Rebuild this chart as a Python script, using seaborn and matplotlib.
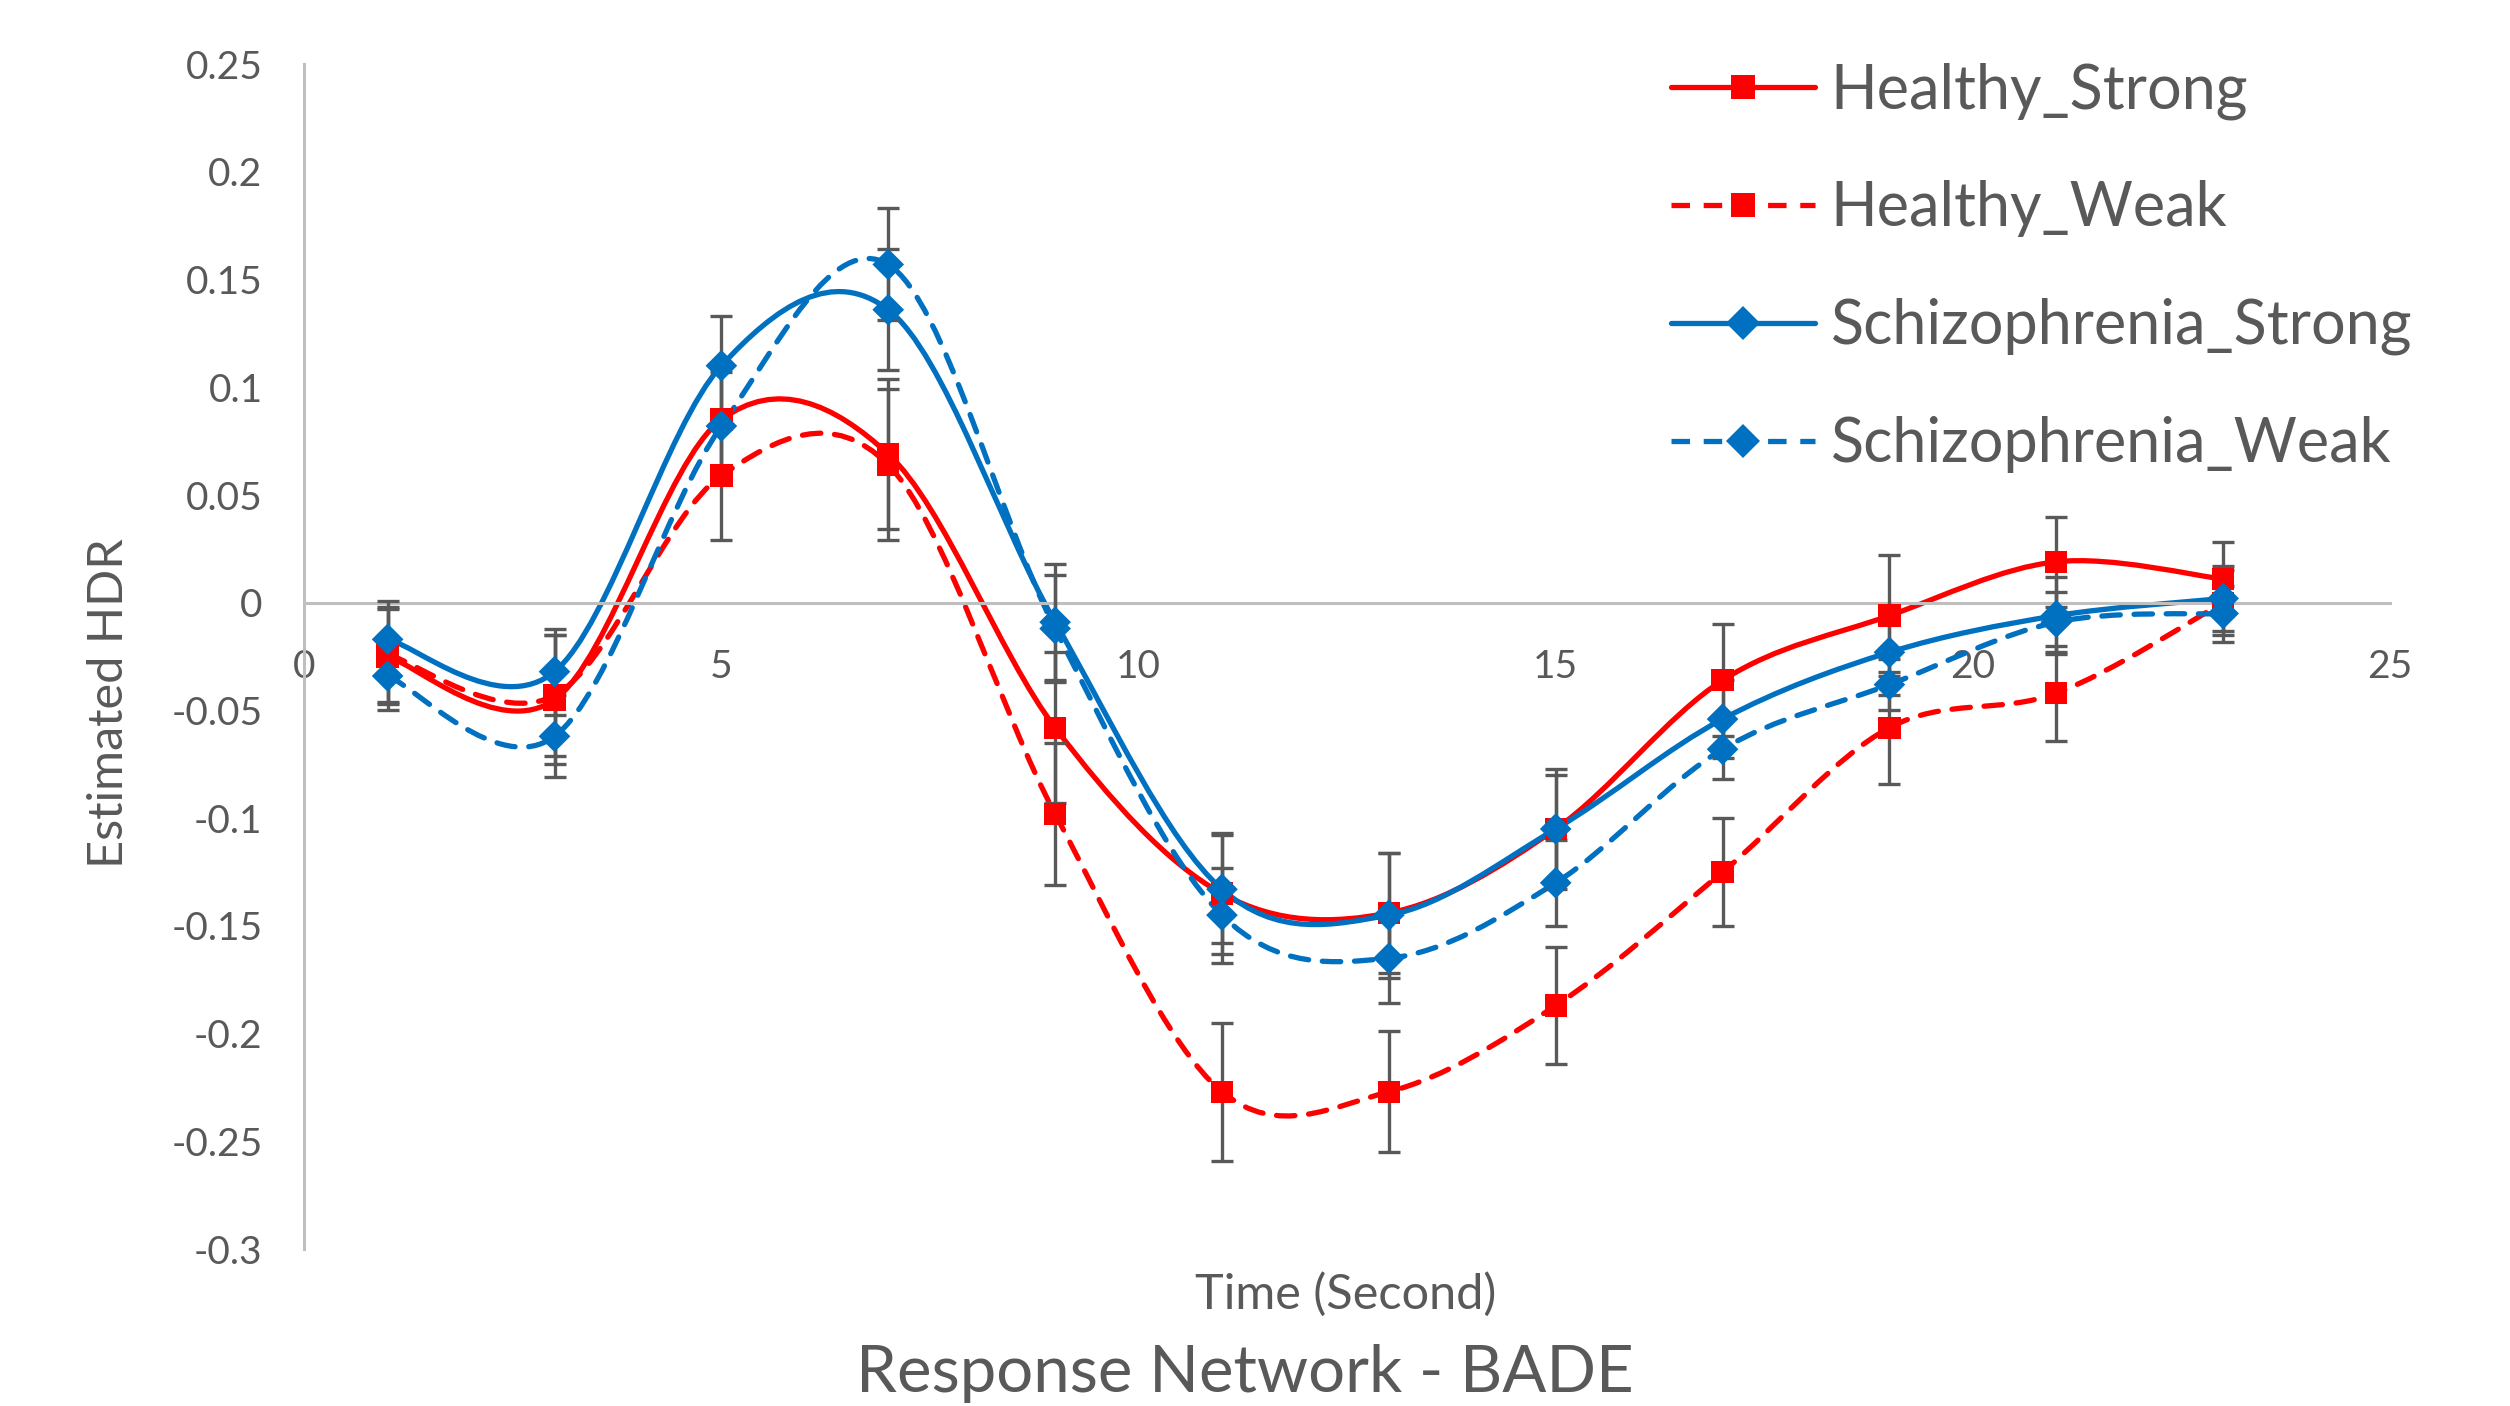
import numpy as np
import pandas as pd
import matplotlib
matplotlib.use("Agg")
import matplotlib.pyplot as plt
import seaborn as sns
from matplotlib.path import Path
from matplotlib.patches import PathPatch
from matplotlib.lines import Line2D

# data
time_s = [1, 3, 5, 7, 9, 11, 13, 15, 17, 19, 21, 23]

healthy_strong = [-0.025, -0.045, 0.085, 0.069, -0.058, -0.135, -0.144, -0.105, -0.036, -0.006, 0.019, 0.011]
healthy_weak = [-0.024, -0.043, 0.059, 0.064, -0.098, -0.227, -0.227, -0.187, -0.125, -0.058, -0.042, 0.0]
schizo_strong = [-0.017, -0.032, 0.110, 0.136, -0.009, -0.133, -0.145, -0.105, -0.054, -0.023, -0.006, 0.002]
schizo_weak = [-0.034, -0.062, 0.082, 0.157, -0.012, -0.145, -0.165, -0.130, -0.068, -0.038, -0.009, -0.005]

healthy_strong_err = [0.022, 0.030, 0.025, 0.035, 0.035, 0.028, 0.028, 0.028, 0.026, 0.028, 0.021, 0.017]
healthy_weak_err = [0.022, 0.028, 0.030, 0.035, 0.033, 0.032, 0.028, 0.027, 0.025, 0.026, 0.022, 0.015]
schizo_strong_err = [0.018, 0.020, 0.023, 0.028, 0.027, 0.025, 0.029, 0.025, 0.018, 0.020, 0.018, 0.015]
schizo_weak_err = [0.016, 0.019, 0.025, 0.026, 0.025, 0.022, 0.021, 0.020, 0.014, 0.012, 0.014, 0.013]

series_names = ["Healthy_Strong", "Healthy_Weak", "Schizophrenia_Strong", "Schizophrenia_Weak"]
series_vals = [healthy_strong, healthy_weak, schizo_strong, schizo_weak]
series_err = [healthy_strong_err, healthy_weak_err, schizo_strong_err, schizo_weak_err]

RED = "#FF0000"
BLUE = "#0070C0"
GREY = "#595959"
AXIS = "#BFBFBF"
colors = {"Healthy_Strong": RED, "Healthy_Weak": RED,
          "Schizophrenia_Strong": BLUE, "Schizophrenia_Weak": BLUE}
markers = {"Healthy_Strong": "s", "Healthy_Weak": "s",
           "Schizophrenia_Strong": "D", "Schizophrenia_Weak": "D"}
dashes = {"Healthy_Strong": "-", "Healthy_Weak": (0, (3.5, 2.6)),
          "Schizophrenia_Strong": "-", "Schizophrenia_Weak": (0, (3.5, 2.6))}


def smooth_path(x, y):
    # Excel-style smoothed line (Catmull-Rom as cubic Bezier)
    pts = np.column_stack([x, y]).astype(float)
    n = len(pts)
    verts = [pts[0]]
    codes = [Path.MOVETO]
    for i in range(n - 1):
        p0 = pts[max(i - 1, 0)]
        p1 = pts[i]
        p2 = pts[i + 1]
        p3 = pts[min(i + 2, n - 1)]
        verts += [p1 + (p2 - p0) / 6, p2 - (p3 - p1) / 6, p2]
        codes += [Path.CURVE4] * 3
    return Path(verts, codes)


df = pd.DataFrame({
    "Time": time_s * 4,
    "HDR": sum(series_vals, []),
    "Series": sum([[s] * len(time_s) for s in series_names], []),
})

sns.set_style("white")
plt.rcParams["font.family"] = ["Lato", "DejaVu Sans"]

fig = plt.figure(figsize=(25.1, 14.06), dpi=100)
ax = fig.add_axes([0.1212, 0.1116, 0.8310, 0.8428])

for name, vals, err in zip(series_names, series_vals, series_err):
    ax.add_patch(PathPatch(smooth_path(time_s, vals), fill=False, edgecolor=colors[name],
                           linewidth=3.8, linestyle=dashes[name], zorder=2,
                           capstyle="round"))
    ax.errorbar(time_s, vals, yerr=err, fmt="none", ecolor=GREY, elinewidth=2.4,
                capsize=8, capthick=2.4, zorder=3)

sns.scatterplot(data=df, x="Time", y="HDR", hue="Series", style="Series",
                palette=colors, markers=markers, s=260, linewidth=0,
                legend=False, ax=ax, zorder=4)

ax.set_xlim(0, 25)
ax.set_ylim(-0.3, 0.25)
ax.set_xticks([0, 5, 10, 15, 20, 25])
ax.set_xticklabels(["0", "5", "10", "15", "20", "25"])
ax.set_yticks(np.arange(-0.3, 0.2501, 0.05))
ax.set_yticklabels(["-0.3", "-0.25", "-0.2", "-0.15", "-0.1", "-0.05", "0",
                    "0.05", "0.1", "0.15", "0.2", "0.25"])
ax.spines["bottom"].set_position(("data", 0))
for side in ["top", "right"]:
    ax.spines[side].set_visible(False)
for side in ["left", "bottom"]:
    ax.spines[side].set_color(AXIS)
    ax.spines[side].set_linewidth(2.2)
ax.tick_params(axis="x", length=0, pad=33, labelsize=28, colors=GREY)
ax.tick_params(axis="y", length=0, pad=30, labelsize=28, colors=GREY)
ax.set_xlabel("")
ax.set_ylabel("")

fig.text(0.0435, 0.5, "Estimated HDR", rotation=90, ha="center", va="center",
         fontsize=35, color=GREY)
fig.text(0.536, 0.0795, "Time (Second)", ha="center", va="center",
         fontsize=35, color=GREY)
fig.text(0.496, 0.023, "Response Network - BADE", ha="center", va="center",
         fontsize=47, color=GREY)

handles = [Line2D([0], [0], color=colors[n], linestyle=dashes[n], linewidth=3.8,
                  marker=markers[n], markersize=17, markeredgewidth=0)
           for n in series_names]
leg = fig.legend(handles, series_names, loc="upper left",
                 bbox_to_anchor=(0.6485, 0.986), frameon=False, fontsize=44,
                 handlelength=2.36, handletextpad=0.26, labelspacing=0.99,
                 borderaxespad=0.3)
for t in leg.get_texts():
    t.set_color(GREY)

fig.savefig("out.png", dpi=100)
